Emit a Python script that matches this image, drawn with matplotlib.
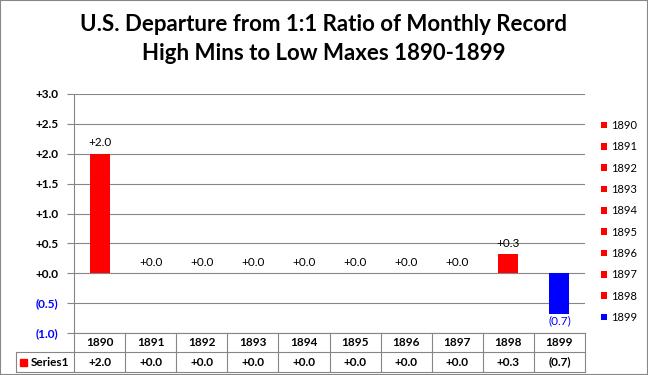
import matplotlib
matplotlib.use("Agg")
import matplotlib.pyplot as plt
from matplotlib.transforms import blended_transform_factory
from matplotlib.patches import Rectangle
from matplotlib.lines import Line2D

years = ["1890", "1891", "1892", "1893", "1894", "1895", "1896", "1897", "1898", "1899"]
values = [2.0, 0.0, 0.0, 0.0, 0.0, 0.0, 0.0, 0.0, 0.32, -0.68]
series_name = "Series1"
title = "U.S. Departure from 1:1 Ratio of Monthly Record\nHigh Mins to Low Maxes 1890-1899"
yticks = [-1.0, -0.5, 0.0, 0.5, 1.0, 1.5, 2.0, 2.5, 3.0]

RED = "#FF0000"
BLUE = "#0000FF"
GRID = "#868686"
FONT = "Lato"
FS = 8.5

def fmt(v):
    return f"({abs(v):.1f})" if v < 0 else f"+{v:.1f}"

W, H = 648, 375
fig = plt.figure(figsize=(W / 100, H / 100), dpi=100)
fig.patch.set_facecolor("white")

def fx(px):
    return px / W

def fy(py):
    return (H - py) / H

L, R, T, B = 74, 585, 94, 333
ax = fig.add_axes([fx(L), fy(B), fx(R) - fx(L), fy(T) - fy(B)])
ax.set_xlim(-0.5, len(years) - 0.5)
ax.set_ylim(-1.0, 3.0)

colors = [BLUE if v < 0 else RED for v in values]
for i, (yr, v, c) in enumerate(zip(years, values, colors)):
    ax.bar(i, v, width=0.39, color=c, label=yr, zorder=3)
    lab_col = BLUE if v < 0 else "black"
    if v >= 0:
        ax.annotate(fmt(v), (i, v), xytext=(0, 4), textcoords="offset points",
                    ha="center", va="bottom", fontsize=FS, color=lab_col, family=FONT)
    else:
        ax.annotate(fmt(v), (i, v), xytext=(0, -1), textcoords="offset points",
                    ha="center", va="top", fontsize=FS, color=lab_col, family=FONT)

ax.set_yticks(yticks)
ax.set_yticklabels([fmt(t) for t in yticks], fontsize=FS, fontweight="bold", family=FONT)
for t, lab in zip(yticks, ax.get_yticklabels()):
    lab.set_color(BLUE if t < 0 else "black")
ax.tick_params(axis="y", length=5, color=GRID, pad=6)
ax.set_xticks([])
ax.grid(axis="y", color=GRID, linewidth=0.8, zorder=0)
for s in ["top", "right", "bottom"]:
    ax.spines[s].set_visible(False)
ax.spines["left"].set_color(GRID)
ax.spines["left"].set_linewidth(0.8)

# data table below the axes
tr = blended_transform_factory(ax.transData, fig.transFigure)
row1_top, row1_bot, row2_bot = fy(333), fy(352), fy(372)
lkw = dict(color=GRID, linewidth=0.8, clip_on=False)
for i in range(len(years) + 1):
    ax.add_line(Line2D([i - 0.5, i - 0.5], [row1_top, row2_bot], transform=tr, **lkw))
ax.add_line(Line2D([-0.5, len(years) - 0.5], [row1_top, row1_top], transform=tr, **lkw))
for yy in (row1_bot, row2_bot):
    fig.add_artist(Line2D([fx(16), fx(R)], [yy, yy], **lkw))
fig.add_artist(Line2D([fx(16), fx(16)], [row1_bot, row2_bot], **lkw))
for i, (yr, v) in enumerate(zip(years, values)):
    ax.text(i, (row1_top + row1_bot) / 2, yr, transform=tr, ha="center", va="center",
            fontsize=FS, fontweight="bold", family=FONT, clip_on=False)
    ax.text(i, (row1_bot + row2_bot) / 2, fmt(v), transform=tr, ha="center", va="center",
            fontsize=FS, fontweight="bold", family=FONT, clip_on=False)
fig.add_artist(Rectangle((fx(20), fy(366)), fx(7), fy(359) - fy(366), color=RED))
fig.text(fx(31), (row1_bot + row2_bot) / 2, series_name, ha="left", va="center",
         fontsize=FS, fontweight="bold", family=FONT)

# legend
leg = fig.legend(loc="upper left", bbox_to_anchor=(fx(601), fy(120)), frameon=False,
                 handlelength=0.55, handleheight=0.55, handletextpad=0.35,
                 labelspacing=0.93, borderaxespad=0, borderpad=0,
                 prop={"family": FONT, "size": 8})

fig.text(0.5, fy(39), title, ha="center", va="center", fontsize=16, fontweight="bold",
         family=FONT, linespacing=1.45)

fig.add_artist(Rectangle((0, 0), 1, 1, transform=fig.transFigure, fill=False,
                         edgecolor="#888888", linewidth=1.5))

fig.savefig("out.png", dpi=100)
